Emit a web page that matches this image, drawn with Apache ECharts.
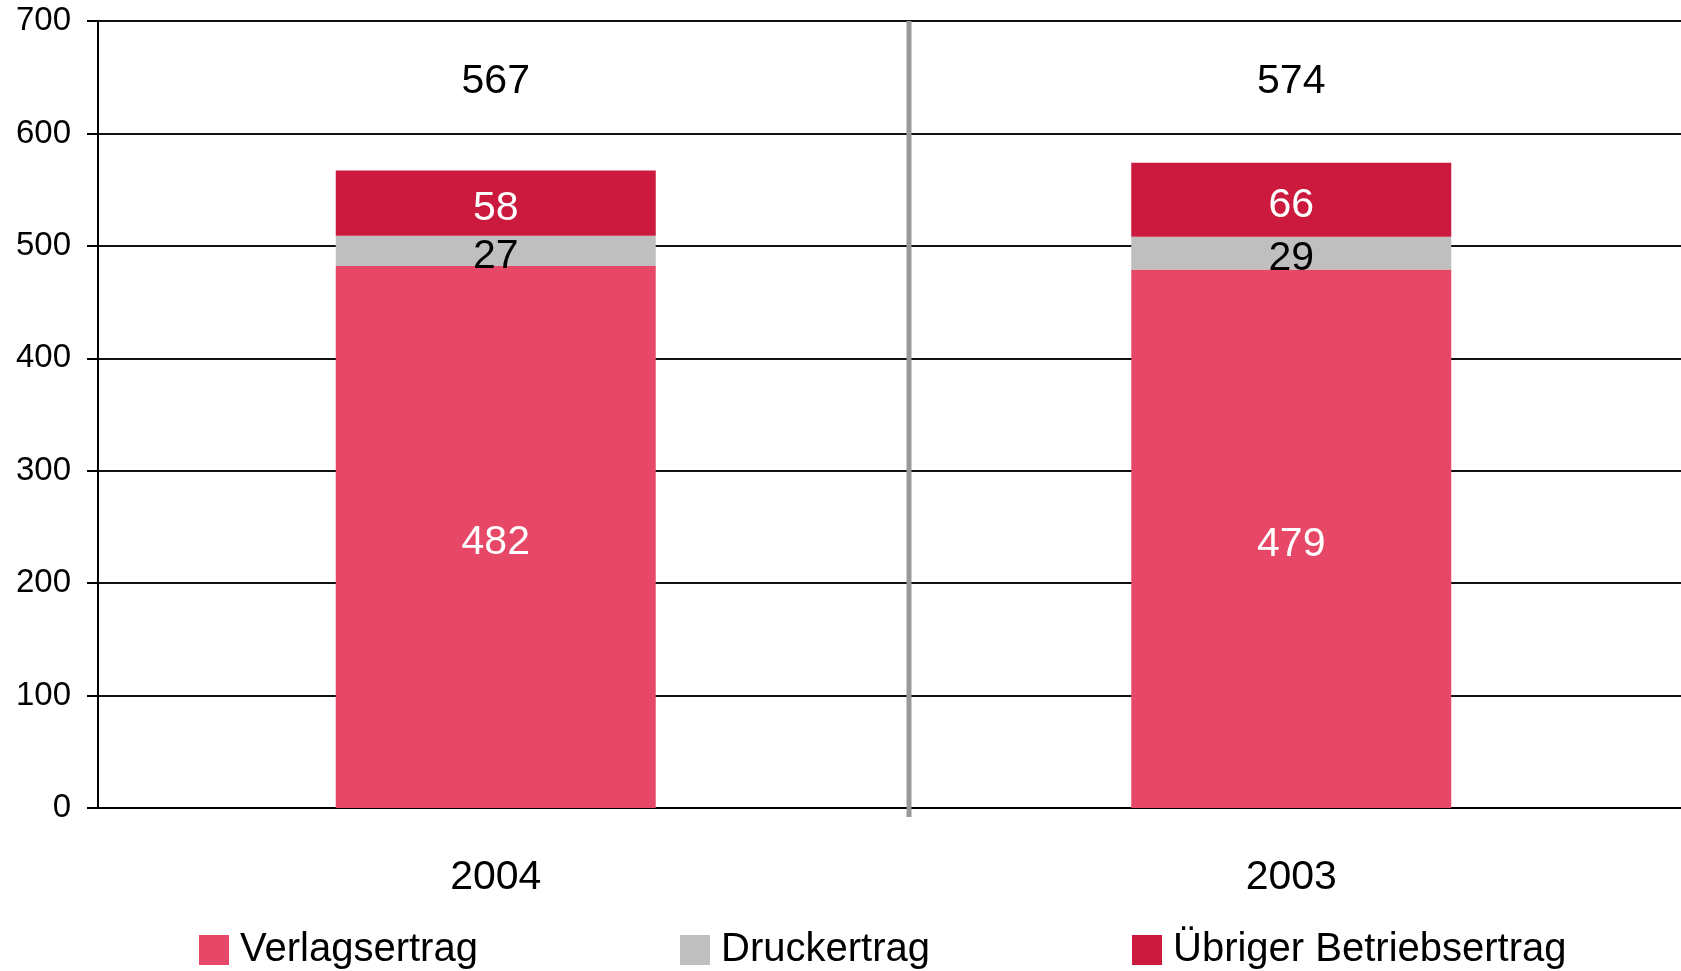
<!DOCTYPE html>
<html>
<head>
	<meta charset="utf-8">
	<title>Betriebsertrag</title>
	<script src="https://cdn.jsdelivr.net/npm/echarts@6/dist/echarts.min.js"></script>
	<style>
		html, body { margin: 0; padding: 0; background: #fff; }
		#chart { width: 1681px; height: 971px; }
	</style>
</head>
<body>
<div id="chart"></div>
<script>
	var years = ['2004', '2003'];
	var verlag = [482, 479];
	var drucker = [27, 29];
	var uebrig = [58, 66];
	var yTicks = [0, 100, 200, 300, 400, 500, 600, 700];

	var totals = years.map(function (y, i) {
		return verlag[i] + drucker[i] + uebrig[i];
	});

	var font = 'Liberation Sans, Arial, sans-serif';
	var labelY = 646; // height of the total labels inside the plot

	var chart = echarts.init(document.getElementById('chart'));

	function segLabel(color) {
		return {
			show: true,
			position: 'inside',
			offset: [0, 6],
			color: color,
			fontSize: 41,
			fontFamily: font
		};
	}

	function legendAt(left, name) {
		return {
			data: [name],
			left: left,
			top: 930,
			padding: 0,
			icon: 'rect',
			itemWidth: 30,
			itemHeight: 30,
			selectedMode: false,
			textStyle: { fontSize: 40, fontFamily: font, color: '#000', padding: [0, 0, 0, 6] }
		};
	}

	chart.setOption({
		animation: false,
		textStyle: { fontFamily: font },
		grid: { left: 98, width: 1591, top: 21, bottom: 163, outerBoundsMode: 'none' },
		legend: [
			legendAt(199, 'Verlagsertrag'),
			legendAt(680, 'Druckertrag'),
			legendAt(1132, 'Übriger Betriebsertrag')
		],
		xAxis: {
			type: 'category',
			data: years,
			axisLine: { lineStyle: { color: '#000', width: 2 } },
			axisTick: { show: false },
			axisLabel: { fontSize: 41, color: '#000', margin: 49, fontFamily: font }
		},
		yAxis: {
			type: 'value',
			min: yTicks[0],
			max: yTicks[yTicks.length - 1],
			interval: 100,
			axisLine: { show: true, lineStyle: { color: '#000', width: 2 } },
			axisTick: { show: true, length: 11, lineStyle: { color: '#000', width: 2 } },
			axisLabel: { fontSize: 33, color: '#000', margin: 27, fontFamily: font, padding: [3, 0, 0, 0] },
			splitLine: { lineStyle: { color: '#111', width: 2 } }
		},
		series: [
			{
				name: 'Verlagsertrag',
				type: 'bar',
				stack: 'total',
				barWidth: 320,
				data: verlag,
				itemStyle: { color: '#E84867' },
				label: segLabel('#fff')
			},
			{
				name: 'Druckertrag',
				type: 'bar',
				stack: 'total',
				barWidth: 320,
				data: drucker,
				itemStyle: { color: '#BFBFBF' },
				label: segLabel('#000')
			},
			{
				name: 'Übriger Betriebsertrag',
				type: 'bar',
				stack: 'total',
				barWidth: 320,
				data: uebrig,
				itemStyle: { color: '#CB1A3E' },
				label: segLabel('#fff')
			},
			{
				name: 'Summe',
				type: 'scatter',
				symbolSize: 1,
				silent: true,
				itemStyle: { opacity: 0 },
				data: years.map(function (y, i) { return [i, labelY]; }),
				label: {
					show: true,
					position: 'inside',
					fontSize: 41,
					color: '#000',
					opacity: 1,
					fontFamily: font,
					formatter: function (p) { return String(totals[p.dataIndex]); }
				}
			}
		],
		graphic: [{
			type: 'line',
			shape: { x1: 909, y1: 21, x2: 909, y2: 817 },
			style: { stroke: '#999', lineWidth: 5 },
			z: 10
		}]
	});
</script>
</body>
</html>
